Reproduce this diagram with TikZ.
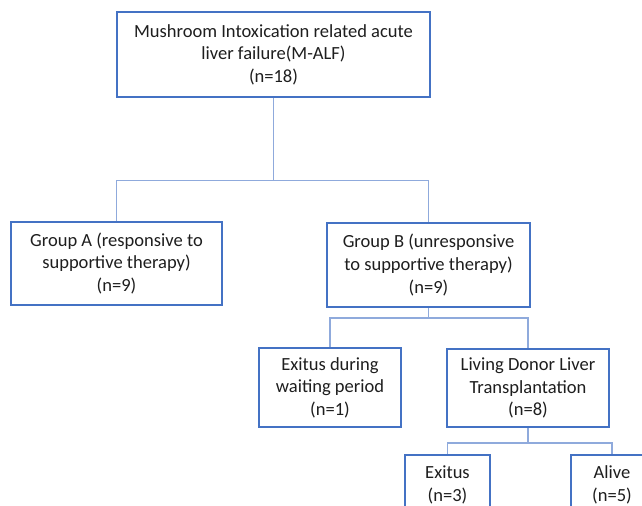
\documentclass[tikz,border=0pt]{standalone}
\usepackage{fontspec}
\setmainfont{Carlito}
\definecolor{boxblue}{RGB}{68,114,196}
\definecolor{lineblue}{RGB}{143,170,220}
\definecolor{txt}{RGB}{30,30,30}
\begin{document}
\begin{tikzpicture}[x=0.75pt,y=-0.75pt,
  fbox/.style={draw=boxblue,line width=1.2pt,fill=white,align=center,text=txt,
    inner sep=0pt,font=\fontsize{13.9}{16.9}\selectfont},
  conn/.style={draw=lineblue,line width=0.9pt}]
\useasboundingbox (0,0) rectangle (642,506);
\clip (0,0) rectangle (642,506);
\fill[white] (0,0) rectangle (642,506);
\node[fbox,minimum width=313*0.75pt,minimum height=85*0.75pt] (top) at (273.5,54.5)
  {Mushroom Intoxication related acute\\liver failure(M-ALF)\\(n=18)};
\node[fbox,minimum width=211*0.75pt,minimum height=83*0.75pt] (gA) at (116.5,263.5)
  {Group A (responsive to\\supportive therapy)\\(n=9)};
\node[fbox,minimum width=203*0.75pt,minimum height=84*0.75pt] (gB) at (428.5,265)
  {Group B (unresponsive\\to supportive therapy)\\(n=9)};
\node[fbox,minimum width=142*0.75pt,minimum height=79*0.75pt] (ew) at (330,387.5)
  {Exitus during\\waiting period\\(n=1)};
\node[fbox,minimum width=162*0.75pt,minimum height=78*0.75pt] (ldlt) at (528,388)
  {Living Donor Liver\\Transplantation\\(n=8)};
\node[fbox,minimum width=85*0.75pt,minimum height=60*0.75pt] (ex) at (447.5,485)
  {Exitus\\(n=3)};
\node[fbox,minimum width=82*0.75pt,minimum height=60*0.75pt] (al) at (612,485)
  {Alive\\(n=5)};
\coordinate (j1) at (273.5,180.5);
\coordinate (j2) at (428.5,318);
\coordinate (j3) at (528,443);
\draw[conn] (top.south) -- (j1);
\draw[conn] (gA.north) |- (j1) -| (gB.north);
\draw[conn] (gB.south) -- (j2);
\draw[conn] (ew.north) |- (j2) -| (ldlt.north);
\draw[conn] (ldlt.south) -- (j3);
\draw[conn] (ex.north) |- (j3) -| (al.north);
\end{tikzpicture}
\end{document}
